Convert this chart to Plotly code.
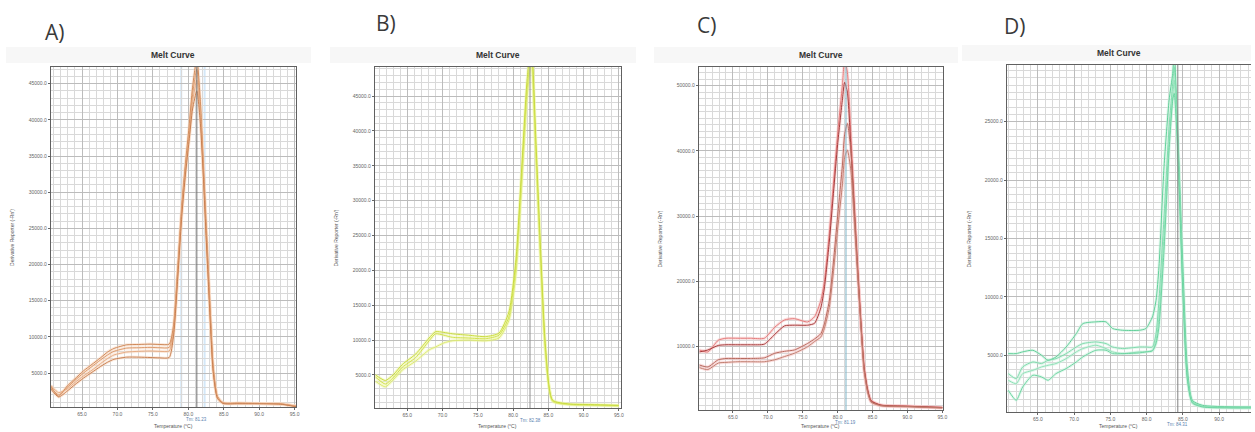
import plotly.graph_objects as go

W, H = 1255, 432

# ---------------- data ----------------
X_TICK_VALS = [65, 70, 75, 80, 85, 90, 95]
X_TICK_TEXT = ["65.0", "70.0", "75.0", "80.0", "85.0", "90.0", "95.0"]

# Panel A (orange)
A_temp = [60.6, 61.7, 62.9, 64.0, 65.2, 66.4, 67.6, 68.6, 69.5, 71.3, 73.0, 74.6, 76.0, 77.3, 77.9, 78.5,
          79.1, 79.6, 80.1, 80.6, 81.2, 81.7, 82.1, 82.5, 82.8, 83.2, 83.5, 84.1, 84.9, 87.0, 90.0, 93.0, 95.2]
A1 = [3200, 1800, 3200, 4200, 5300, 6200, 7100, 7900, 8400, 8900, 8950, 9000, 8950, 9000, 11500, 19500,
      28500, 34000, 39000, 44500, 48500, 42500, 34500, 26000, 20000, 11500, 6000, 1800, 900, 850, 800, 750, 400]
A2 = [3000, 2000, 3000, 4000, 5000, 5900, 6800, 7500, 8000, 8450, 8500, 8550, 8500, 8550, 11000, 19000,
      28000, 33500, 38000, 43500, 47000, 41500, 33500, 25000, 19000, 11000, 5700, 1700, 850, 800, 780, 720, 400]
A3 = [3300, 2300, 2800, 3700, 4600, 5400, 6300, 7000, 7500, 7900, 8000, 8050, 8000, 8050, 10500, 18500,
      27500, 33000, 37500, 42500, 45500, 40500, 33000, 24500, 18500, 10500, 5400, 1600, 850, 820, 800, 750, 450]
A4 = [2800, 1700, 2500, 3400, 4300, 5100, 5900, 6500, 6900, 7200, 7200, 7150, 7100, 7150, 10000, 18000,
      27000, 32500, 37000, 41500, 44000, 39500, 32500, 24000, 18000, 10000, 5200, 1500, 800, 760, 760, 700, 350]
A_yticks = [5000, 10000, 15000, 20000, 25000, 30000, 35000, 40000, 45000]
A_tm = 81.2

# Panel B (yellow-green)
B_temp = [60.5, 61.9, 63.0, 64.3, 66.2, 68.1, 69.0, 70.2, 71.4, 73.7, 76.1, 78.0, 79.4, 80.4, 81.3, 82.0,
          82.6, 83.2, 83.9, 84.6, 85.6, 87.9, 91.0, 95.0]
B1 = [4700, 3700, 4600, 6100, 7500, 9900, 10900, 10700, 10400, 10300, 10200, 10700, 13300, 20500, 34800, 46000,
      51000, 38000, 22000, 8500, 1300, 800, 700, 600]
B2 = [4100, 3300, 4300, 5700, 7000, 8600, 9000, 9600, 9900, 10000, 9900, 10300, 12800, 19500, 33500, 45000,
      50000, 37000, 21000, 8000, 1200, 750, 650, 550]
B3 = [5000, 4200, 5000, 6500, 8000, 10300, 11200, 11100, 10900, 10700, 10500, 11000, 14000, 21500, 36000, 47500,
      52500, 39500, 23000, 9000, 1400, 850, 750, 650]
B_yticks = [5000, 10000, 15000, 20000, 25000, 30000, 35000, 40000, 45000]
B_tm = 82.4

# Panel C (red)
C_temp = [60.2, 61.4, 62.9, 64.0, 65.7, 67.5, 69.5, 71.0, 72.4, 73.8, 75.7, 76.7, 77.6, 78.1, 78.8, 79.4,
          80.0, 80.7, 81.0, 81.4, 81.9, 82.4, 82.9, 83.4, 83.8, 84.3, 84.8, 86.2, 90.0, 95.0]
C1 = [9500, 9200, 11000, 11300, 11300, 11300, 11300, 13000, 14100, 14300, 13800, 14600, 17100, 20000, 27300, 35000,
      42600, 50300, 54000, 52000, 42600, 32000, 22200, 13000, 7000, 3500, 1800, 1070, 900, 700]
C2 = [9200, 9500, 10200, 10300, 10300, 10300, 10400, 11900, 13200, 13300, 13300, 13600, 16000, 19000, 26000, 33500,
      41000, 48000, 50500, 49000, 40500, 30500, 21000, 12500, 6800, 3400, 1700, 1050, 880, 700]
C3 = [7200, 6900, 8000, 8200, 8200, 8200, 8300, 9000, 9300, 9500, 10500, 11200, 12000, 13500, 17000, 23000,
      30000, 38000, 42500, 44200, 40000, 31000, 21500, 12500, 6500, 3200, 1600, 1000, 850, 650]
C4 = [6800, 6500, 7500, 7600, 7700, 7700, 7700, 8000, 8500, 9000, 10000, 10800, 11500, 12800, 16000, 21500,
      28000, 35000, 39000, 40100, 37000, 29000, 20500, 12000, 6200, 3000, 1500, 950, 800, 600]
C_yticks = [10000, 20000, 30000, 40000, 50000]
C_tm = 81.2

# Panel D (green)
D_temp = [60.9, 62.0, 62.9, 64.3, 65.5, 66.4, 67.5, 68.9, 70.3, 71.2, 73.0, 74.4, 75.3, 76.7, 79.0, 79.9,
          80.8, 81.3, 81.7, 82.4, 83.1, 83.6, 83.8, 84.3, 85.0, 85.6, 86.3, 87.7, 94.4]
D1 = [5140, 5140, 5290, 5430, 5000, 4570, 4860, 5710, 6860, 7710, 7860, 7860, 7290, 7140, 7140, 7290,
      8290, 9710, 12570, 21140, 26860, 29140, 31000, 24000, 12570, 4000, 1140, 710, 570]
D2 = [3430, 3000, 4000, 4430, 4290, 4570, 4710, 5140, 5710, 6000, 6140, 6000, 5710, 5570, 5710, 5710,
      5710, 6860, 9710, 16860, 24570, 28290, 29700, 23430, 11140, 3430, 1000, 630, 510]
D3 = [2860, 2570, 3430, 3710, 4000, 4140, 4290, 4710, 5290, 5570, 5860, 5570, 5290, 5140, 5290, 5290,
      5430, 6290, 8290, 15430, 23430, 27140, 28570, 22860, 10570, 3140, 1000, 630, 510]
D4 = [2000, 1140, 2290, 3290, 3140, 2860, 3430, 3860, 4430, 4860, 5430, 5430, 5140, 5140, 5200, 5290,
      5370, 6000, 7430, 14000, 22570, 26860, 27430, 22290, 10290, 3000, 910, 570, 490]
D_yticks = [5000, 10000, 15000, 20000, 25000]
D_tm = 84.3

PANEL_LABELS = ["A)", "B)", "C)", "D)"]
TM_TEXT = ["Tm: 81.23", "Tm: 82.38", "Tm: 81.19", "Tm: 84.31"]

# ---------------- styling / layout ----------------
panels = [
    dict(temp=A_temp, curves=[A1, A2, A3, A4],
         colors=["#d08a5a", "#dc9a6c", "#e6ac84", "#c98052"], halo="#f8d6bd",
         xr=[60.6, 95.2], yr=[310, 47300], yt=A_yticks, yminor=1000,
         px=(51, 297, 67, 407), tm=A_tm, tmcolor="#707070",
         label_xy=(43, 32), ytitle_x=12, title_y=55),
    dict(temp=B_temp, curves=[B1, B2, B3],
         colors=["#d2e24e", "#dce972", "#c9db40"], halo="#eef5a8",
         xr=[60.4, 95.3], yr=[263, 49160], yt=B_yticks, yminor=1000,
         px=(376, 623, 67, 408), tm=B_tm, tmcolor="#909090",
         label_xy=(375, 23), ytitle_x=337, title_y=55),
    dict(temp=C_temp, curves=[C1, C2, C3, C4],
         colors=["#e57b7b", "#a63c3c", "#b86a5e", "#c27f70"], halo="#f6c0c0",
         xr=[60.1, 95.1], yr=[306, 52860], yt=C_yticks, yminor=1000,
         px=(701, 946, 67, 410), tm=C_tm, tmcolor="#7fb6c8",
         label_xy=(697, 25), ytitle_x=662, title_y=55),
    dict(temp=D_temp, curves=[D1, D2, D3, D4],
         colors=["#62d09a", "#80dcae", "#90e2b8", "#6dd5a2"], halo="#c8f1dc",
         xr=[60.7, 94.4], yr=[140, 29860], yt=D_yticks, yminor=625,
         px=(1010, 1255, 65, 412), tm=D_tm, tmcolor="#808080",
         label_xy=(1005, 26), ytitle_x=972, title_y=53),
]


def fx(p):
    return p / W


def fy(p):
    return 1 - p / H


fig = go.Figure()
layout = dict(width=W, height=H, margin=dict(l=0, r=0, t=0, b=0),
              paper_bgcolor="white", plot_bgcolor="white", showlegend=False,
              font=dict(family="Liberation Sans, Arial, sans-serif", color="#444"))
shapes = []
annotations = []

for i, p in enumerate(panels):
    s = "" if i == 0 else str(i + 1)
    x0, x1, y0, y1 = p["px"]
    last = (i == 3)
    layout["xaxis" + s] = dict(
        domain=[fx(x0), min(1.0, fx(x1))], range=p["xr"], anchor="y" + s,
        tickmode="array", tickvals=X_TICK_VALS, ticktext=X_TICK_TEXT,
        tickfont=dict(size=5, color="#666"), ticks="outside", ticklen=2, tickcolor="#666",
        showgrid=True, gridcolor="#bcbcbc", gridwidth=1,
        minor=dict(dtick=1, tick0=60, showgrid=True, gridcolor="#d9d9d9", gridwidth=1),
        showline=True, linecolor="#606060", linewidth=1, mirror=True, zeroline=False,
        fixedrange=True)
    layout["yaxis" + s] = dict(
        domain=[fy(y1), fy(y0)], range=p["yr"], anchor="x" + s,
        tickmode="array", tickvals=p["yt"], ticktext=[f"{v:.1f}" for v in p["yt"]],
        tickfont=dict(size=5, color="#666"), ticks="outside", ticklen=2, tickcolor="#666",
        showgrid=True, gridcolor="#bcbcbc", gridwidth=1,
        minor=dict(dtick=p["yminor"], tick0=0, showgrid=True, gridcolor="#d9d9d9", gridwidth=1),
        showline=True, linecolor="#606060", linewidth=1, mirror=(not last), zeroline=False,
        fixedrange=True)

    # curves: soft halo + thin line
    for vals in p["curves"]:
        fig.add_trace(go.Scatter(x=p["temp"], y=vals, mode="lines", xaxis="x" + s, yaxis="y" + s,
                                 line=dict(color=p["halo"], width=3.0, shape="spline", smoothing=0.6),
                                 opacity=0.5, hoverinfo="skip"))
    for vals, col in zip(p["curves"], p["colors"]):
        fig.add_trace(go.Scatter(x=p["temp"], y=vals, mode="lines", xaxis="x" + s, yaxis="y" + s,
                                 line=dict(color=col, width=1.0, shape="spline", smoothing=0.6)))

    # Tm line
    shapes.append(dict(type="line", xref="x" + s, yref="y" + s + " domain", x0=p["tm"], x1=p["tm"],
                       y0=0, y1=1, line=dict(color=p["tmcolor"], width=1), layer="above"))

    cx = (x0 + min(x1, W)) / 2 if not last else (x0 + 1235) / 2
    # faint title band
    shapes.append(dict(type="rect", xref="paper", yref="paper",
                       x0=fx(x0 - 45), x1=min(1.0, fx(x1 + 15)), y0=fy(y0 - 4), y1=fy(y0 - 20),
                       fillcolor="#f7f7f7", line=dict(width=0), layer="below"))
    # titles
    annotations.append(dict(text="<b>Melt Curve</b>", x=fx(cx), y=fy(p["title_y"]), xref="paper", yref="paper",
                            showarrow=False, font=dict(size=8.5, color="#333"), xanchor="center", yanchor="middle"))
    lx, ly = p["label_xy"]
    annotations.append(dict(text=PANEL_LABELS[i], x=fx(lx), y=fy(ly), xref="paper", yref="paper",
                            showarrow=False, font=dict(size=21, color="#3a3a3a", family="Open Sans, sans-serif"),
                            xanchor="left", yanchor="middle"))
    # axis titles
    annotations.append(dict(text="Temperature (°C)", x=fx(cx), y=fy(426), xref="paper", yref="paper",
                            showarrow=False, font=dict(size=5, color="#555"), xanchor="center", yanchor="middle"))
    annotations.append(dict(text="Derivative Reporter (-Rn')", x=fx(p["ytitle_x"]), y=fy((y0 + y1) / 2),
                            xref="paper", yref="paper", textangle=-90, showarrow=False,
                            font=dict(size=5, color="#555"), xanchor="center", yanchor="middle"))
    annotations.append(dict(text=TM_TEXT[i], x=p["tm"], y=fy(y1 + 12), xref="x" + s, yref="paper",
                            showarrow=False, font=dict(size=4.5, color="#5a7fb0"), xanchor="center",
                            yanchor="middle"))

# faint light-blue guide lines in panel A
for t in [79.0, 82.3]:
    shapes.append(dict(type="line", xref="x", yref="y domain", x0=t, x1=t, y0=0, y1=1,
                       line=dict(color="rgba(160,205,240,0.45)", width=2), layer="below"))

layout["shapes"] = shapes
layout["annotations"] = annotations
fig.update_layout(**layout)
fig.write_html("out.html", config={"displayModeBar": False},
               post_script="document.body.style.margin='0';document.body.style.overflow='hidden';")
